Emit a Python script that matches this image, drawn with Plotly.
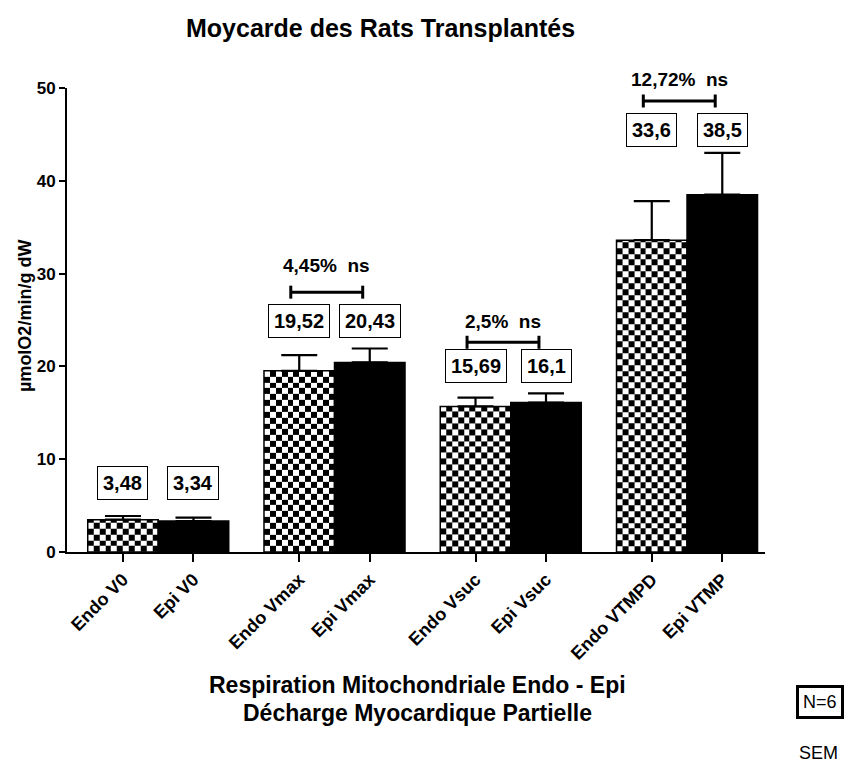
import numpy as np
import plotly.graph_objects as go

# ---- data -------------------------------------------------------------
groups = ["V0", "Vmax", "Vsuc", "VTMP"]
categories = ["Endo V0", "Epi V0", "Endo Vmax", "Epi Vmax",
              "Endo Vsuc", "Epi Vsuc", "Endo VTMPD", "Epi VTMP"]
endo_mean = [3.48, 19.52, 15.69, 33.6]
epi_mean = [3.34, 20.43, 16.1, 38.5]
endo_sem = [0.40, 1.70, 0.95, 4.2]
epi_sem = [0.36, 1.50, 1.00, 4.5]
diff_labels = ["", "4,45% ns", "2,5% ns", "12,72% ns"]

Y_MAX = 50
FONT = "Arial, Liberation Sans, sans-serif"

# bar positions: two touching bars per group, groups separated by a gap
endo_x = [g * 2.5 for g in range(len(groups))]
epi_x = [g * 2.5 + 1 for g in range(len(groups))]

fig = go.Figure()

# checkered fill for the Endo bars
CELL_Y = 0.63
NCOL = 12
for p, v in zip(endo_x, endo_mean):
    xe = np.linspace(p - 0.5, p + 0.5, NCOL + 1)
    ye = list(np.arange(0, v, CELL_Y)) + [v]
    nrow = len(ye) - 1
    z = [[(i + j) % 2 for j in range(NCOL)] for i in range(nrow)]
    fig.add_trace(go.Heatmap(
        x=xe, y=ye, z=z, zmin=0, zmax=1,
        colorscale=[[0, "white"], [1, "black"]],
        showscale=False, hoverinfo="skip", zsmooth=False,
    ))

# Endo bars (outline over the checker fill)
fig.add_trace(go.Bar(
    x=endo_x, y=endo_mean, width=1.0,
    marker=dict(color="rgba(0,0,0,0)", line=dict(color="black", width=1.5)),
    error_y=dict(type="data", symmetric=False, array=endo_sem,
                 arrayminus=[0] * len(endo_sem),
                 color="black", thickness=2.2, width=18),
    showlegend=False,
))
# Epi bars (solid black)
fig.add_trace(go.Bar(
    x=epi_x, y=epi_mean, width=1.0,
    marker=dict(color="black", line=dict(color="black", width=1.5)),
    error_y=dict(type="data", symmetric=False, array=epi_sem,
                 arrayminus=[0] * len(epi_sem),
                 color="black", thickness=2.2, width=18),
    showlegend=False,
))

# value boxes above each bar
box_y = [7.4, 24.9, 20.0, 45.5]
for g in range(len(groups)):
    for p, v in ((endo_x[g], endo_mean[g]), (epi_x[g], epi_mean[g])):
        fig.add_annotation(
            x=p, y=box_y[g] / Y_MAX, xref="x", yref="y domain",
            xanchor="center", yanchor="middle",
            text=str(v).replace(".", ","), showarrow=False,
            font=dict(family=FONT, size=20, color="black", weight="bold"),
            bordercolor="black", borderwidth=1, borderpad=5,
            bgcolor="white",
        )

# comparison brackets
bracket_y = [None, 28.0, 22.6, 48.6]
label_y = [None, 30.9, 24.8, 50.9]
for g in range(len(groups)):
    if not diff_labels[g]:
        continue
    x0 = endo_x[g] - 0.12
    x1 = epi_x[g] - 0.1
    yb = bracket_y[g]
    line = dict(color="black", width=3)
    fig.add_shape(type="line", x0=x0, x1=x1, y0=yb, y1=yb, line=line)
    fig.add_shape(type="line", x0=x0, x1=x0, y0=yb - 0.7, y1=yb + 0.7, line=line)
    fig.add_shape(type="line", x0=x1, x1=x1, y0=yb - 0.7, y1=yb + 0.7, line=line)
    fig.add_annotation(
        x=(x0 + x1) / 2, y=label_y[g] / Y_MAX, xref="x", yref="y domain",
        xanchor="center", yanchor="middle",
        text=diff_labels[g].replace(" ", "&nbsp; "), showarrow=False,
        font=dict(family=FONT, size=19, color="black", weight="bold"),
    )


def note(text, px, py, size, bold=True, **kw):
    """Place a text note at a pixel position of the 844x766 page."""
    fig.add_annotation(
        x=(px - 67) / 698, y=(552 - py) / 464, xref="paper", yref="paper",
        xanchor="center", yanchor="middle", text=text, showarrow=False,
        font=dict(family=FONT, size=size, color="black",
                  weight="bold" if bold else "normal"),
        **kw,
    )


note("Moycarde des Rats Transplantés", 380, 28, 25)
note("µmolO2/min/g dW", 25, 316, 18, textangle=-90)
note("Respiration Mitochondriale Endo - Epi", 417, 685, 23)
note("Décharge Myocardique Partielle", 417, 713, 23)
note("N=6", 820, 702, 18, bold=False,
     bordercolor="black", borderwidth=3, borderpad=4, bgcolor="white")
note("SEM", 818, 753, 18, bold=False)

tick_x = []
for a, b in zip(endo_x, epi_x):
    tick_x += [a, b]

fig.update_layout(
    width=844, height=766,
    margin=dict(l=67, r=79, t=88, b=214),
    paper_bgcolor="white", plot_bgcolor="white",
    barmode="overlay", showlegend=False,
    font=dict(family=FONT, color="black"),
    xaxis=dict(
        range=[-0.794, 9.106], tickvals=tick_x, ticktext=categories,
        tickangle=-45, showgrid=False, zeroline=False,
        showline=True, linecolor="black", linewidth=2,
        ticks="outside", ticklen=8, tickwidth=2, tickcolor="black",
        tickfont=dict(family=FONT, size=18, color="black", weight="bold"),
    ),
    yaxis=dict(
        range=[0, Y_MAX], tickvals=[0, 10, 20, 30, 40, 50],
        showgrid=False, zeroline=False,
        showline=True, linecolor="black", linewidth=2,
        ticks="outside", ticklen=6, tickwidth=2, tickcolor="black",
        tickfont=dict(family=FONT, size=17, color="black", weight="bold"),
    ),
)

fig.write_html("out.html")
